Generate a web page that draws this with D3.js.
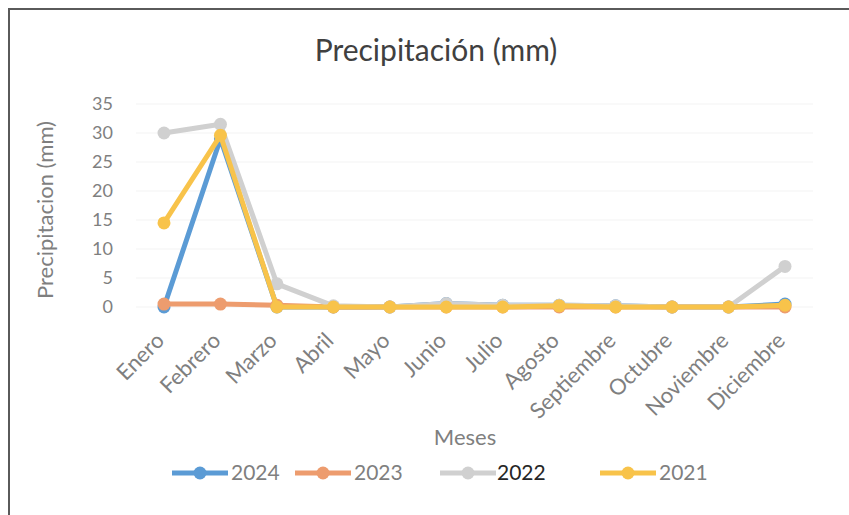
<!DOCTYPE html>
<html>
<head>
<meta charset="utf-8">
<script src="https://cdn.jsdelivr.net/npm/d3@7"></script>
<style>
  html, body { margin: 0; padding: 0; background: #fff; }
  svg { display: block; font-family: Lato, "Open Sans", sans-serif; }
</style>
</head>
<body>
<svg id="chart" width="849" height="515"></svg>
<script>
const months = ["Enero", "Febrero", "Marzo", "Abril", "Mayo", "Junio", "Julio",
  "Agosto", "Septiembre", "Octubre", "Noviembre", "Diciembre"];
const yTicks = [0, 5, 10, 15, 20, 25, 30, 35];

const rain2024 = [0, 29, 0, 0, 0, 0.6, 0.3, 0.3, 0.2, 0, 0, 0.5];
const rain2023 = [0.5, 0.5, 0.3, 0, 0, 0, 0, 0, 0, 0, 0, 0];
const rain2022 = [30, 31.5, 4, 0.2, 0, 0.6, 0.3, 0.3, 0.2, 0, 0, 7];
const rain2021 = [14.5, 29.6, 0, 0, 0, 0, 0, 0.2, 0, 0, 0, 0.3];

const seriesNames = ["2024", "2023", "2022", "2021"];
const seriesColors = ["#5b9bd5", "#ed9c6e", "#d0d0d0", "#f8c34a"];
const seriesValues = [rain2024, rain2023, rain2022, rain2021];

const svg = d3.select("#chart");

// chart frame (top and left edges)
svg.append("line").attr("x1", 8).attr("x2", 849).attr("y1", 9).attr("y2", 9)
  .attr("stroke", "#5a5a5a").attr("stroke-width", 2);
svg.append("line").attr("x1", 9).attr("x2", 9).attr("y1", 8).attr("y2", 515)
  .attr("stroke", "#5a5a5a").attr("stroke-width", 2);

const x = d3.scalePoint().domain(months).range([164, 785]);
const y = d3.scaleLinear().domain([0, 35]).range([307, 104]);

// faint horizontal gridlines
svg.append("g").selectAll("line").data(yTicks).join("line")
  .attr("x1", 136).attr("x2", 813)
  .attr("y1", d => y(d)).attr("y2", d => y(d))
  .attr("stroke", "#f3f3f3").attr("stroke-width", 1);

// y axis labels
const yAxis = svg.append("g").attr("transform", "translate(113,0)")
  .call(d3.axisLeft(y).tickValues(yTicks).tickSize(0).tickPadding(0));
yAxis.select(".domain").remove();
yAxis.selectAll("text").attr("fill", "#7f7f7f").attr("font-size", 18)
  .attr("font-family", "Lato, sans-serif").attr("text-anchor", "end");

// x axis labels, rotated
const xAxis = svg.append("g").attr("transform", "translate(0,318)")
  .call(d3.axisBottom(x).tickSize(0).tickPadding(0));
xAxis.select(".domain").remove();
xAxis.selectAll("text")
  .attr("fill", "#7f7f7f").attr("font-size", 22)
  .attr("font-family", "Lato, sans-serif")
  .attr("text-anchor", "end")
  .attr("dy", 0)
  .attr("transform", "translate(1,24) rotate(-45)");

// titles
svg.append("text").attr("x", 436).attr("y", 61).attr("text-anchor", "middle")
  .attr("font-size", 30).attr("fill", "#404040").text("Precipitación (mm)");
svg.append("text").attr("transform", "translate(53,210) rotate(-90)")
  .attr("text-anchor", "middle").attr("font-size", 22).attr("fill", "#7f7f7f")
  .text("Precipitacion (mm)");
svg.append("text").attr("x", 465).attr("y", 445).attr("text-anchor", "middle")
  .attr("font-size", 22).attr("fill", "#7f7f7f").text("Meses");

// series lines and markers
const line = d3.line().x((d, i) => x(months[i])).y(d => y(d));
seriesValues.forEach((vals, s) => {
  const g = svg.append("g");
  g.append("path").datum(vals).attr("d", line)
    .attr("fill", "none").attr("stroke", seriesColors[s])
    .attr("stroke-width", 5).attr("stroke-linejoin", "round");
  g.selectAll("circle").data(vals).join("circle")
    .attr("cx", (d, i) => x(months[i])).attr("cy", d => y(d))
    .attr("r", 6.5).attr("fill", seriesColors[s]);
});

// legend
const legendX = [172, 295, 440, 600];
const legend = svg.append("g");
seriesNames.forEach((name, s) => {
  const lx = legendX[s];
  legend.append("line").attr("x1", lx).attr("x2", lx + 56)
    .attr("y1", 473).attr("y2", 473)
    .attr("stroke", seriesColors[s]).attr("stroke-width", 5);
  legend.append("circle").attr("cx", lx + 28).attr("cy", 473).attr("r", 6.5)
    .attr("fill", seriesColors[s]);
  legend.append("text").attr("x", s === 2 ? lx + 57 : lx + 59).attr("y", 480)
    .attr("font-size", 21)
    .attr("fill", name === "2022" ? "#262626" : "#7f7f7f")
    .text(name);
});
</script>
</body>
</html>
